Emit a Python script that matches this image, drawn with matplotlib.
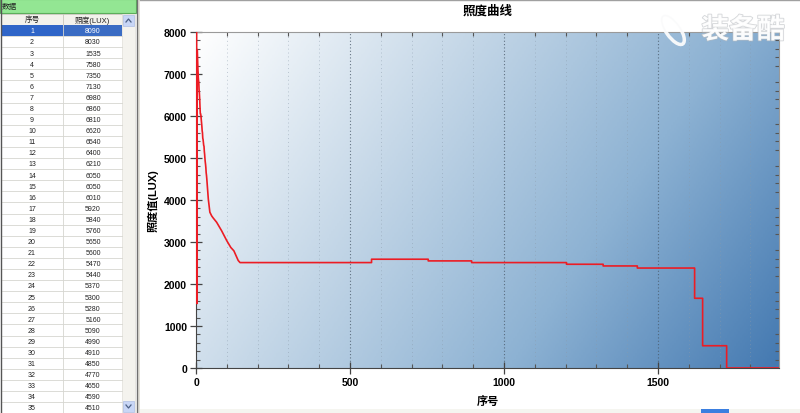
import numpy as np
import matplotlib
matplotlib.use('Agg')
import matplotlib.pyplot as plt
import matplotlib.patheffects as pe
from matplotlib.colors import LinearSegmentedColormap
from matplotlib.ticker import MultipleLocator
from matplotlib.patches import Rectangle, Ellipse

plt.rcParams['font.family'] = ['Liberation Sans', 'Noto Sans CJK SC', 'DejaVu Sans']

# table on the left (first rows of the data)
table_idx = list(range(1, 36))
table_lux = [8090, 8030, 1535, 7580, 7350, 7130, 6980, 6860, 6810, 6620,
             6540, 6400, 6210, 6050, 6050, 6010, 5920, 5840, 5760, 5650,
             5600, 5470, 5440, 5370, 5300, 5280, 5160, 5090, 4990, 4910,
             4850, 4770, 4650, 4590, 4510]

# rest of the curve
curve_idx = [40, 45, 51, 56, 67, 83, 100, 113, 123, 137, 143,
             570, 570, 754, 754, 895, 895, 1203, 1203, 1322, 1322,
             1433, 1433, 1619, 1619, 1645, 1645, 1723, 1723, 1893]
curve_lux = [4020, 3710, 3620, 3570, 3470, 3270, 3030, 2870, 2790, 2560, 2510,
             2510, 2590, 2590, 2550, 2550, 2510, 2510, 2470, 2470, 2430,
             2430, 2380, 2380, 1660, 1660, 530, 530, 0, 0]

x = table_idx + curve_idx
y = table_lux + curve_lux

W, H = 800, 414
fig = plt.figure(figsize=(W / 100, H / 100), dpi=100)
fig.patch.set_facecolor('white')

# ---- left panel (table), drawn in pixel coords
bg = fig.add_axes([0, 0, 1, 1])
bg.set_xlim(0, W)
bg.set_ylim(H, 0)
bg.axis('off')

bg.add_patch(Rectangle((0, 0), 136, 14, facecolor='#93e693', edgecolor='#5cae5c', lw=0.8))
bg.text(2, 7.5, '数据', fontsize=5.5, va='center', ha='left', color='#222222')
bg.add_patch(Rectangle((1, 15), 121, 11, facecolor='#f3f2ec', edgecolor='#c8c6bc', lw=0.6))
bg.plot([63, 63], [15, 26], color='#c8c6bc', lw=0.6)
bg.text(32, 20.5, '序号', fontsize=5.5, ha='center', va='center', color='#222222')
bg.text(92, 20.5, '照度(LUX)', fontsize=5.5, ha='center', va='center', color='#222222')

row_h = 11.09
for i, (n, v) in enumerate(zip(table_idx, table_lux)):
    top = 26 + i * row_h
    if i == 0:
        bg.add_patch(Rectangle((2, top), 61, row_h, facecolor='#2f65c8', edgecolor='none'))
        bg.add_patch(Rectangle((63, top), 59, row_h, facecolor='#3a6cc4', edgecolor='none'))
        c = 'white'
    else:
        c = '#222222'
    bg.plot([2, 122], [top + row_h, top + row_h], color='#d6d6d0', lw=0.6)
    bg.text(32, top + row_h / 2 + 0.3, str(n), fontsize=5, ha='center', va='center', color=c)
    bg.text(93, top + row_h / 2 + 0.3, str(v), fontsize=5, ha='center', va='center', color=c)
bg.plot([63, 63], [26, H], color='#d6d6d0', lw=0.6)

# scrollbar
bg.add_patch(Rectangle((122, 15), 13, H - 15, facecolor='#f4f3ee', edgecolor='#e0dfd8', lw=0.5))
bg.add_patch(Rectangle((123, 16), 11, 11, facecolor='#c8d6f6', edgecolor='#b0c0e4', lw=0.5))
bg.add_patch(Rectangle((123, 402), 11, 11, facecolor='#c8d6f6', edgecolor='#b0c0e4', lw=0.5))
bg.plot([126, 128.5, 131], [23, 20, 23], color='#4d6185', lw=0.9)
bg.plot([126, 128.5, 131], [406, 409, 406], color='#4d6185', lw=0.9)

# panel borders
bg.plot([0.5, 0.5], [0, H], color='#555555', lw=1)
bg.plot([136.5, 136.5], [0, H], color='#707070', lw=1)
bg.add_patch(Rectangle((137, 0), 3, H, facecolor='#e4e2da', edgecolor='none'))
bg.plot([140, W], [0.5, 0.5], color='#a0a0a0', lw=1)
bg.add_patch(Rectangle((140, 410), W - 140, 4, facecolor='#f5f5f0', edgecolor='none'))
bg.add_patch(Rectangle((701, 410), 28, 4, facecolor='#3b7fe0', edgecolor='none'))

# ---- chart
ax = fig.add_axes([196 / W, 1 - 369 / H, (779 - 196) / W, (369 - 33) / H])
ax.set_zorder(1)

gx = np.linspace(0, 1, 300)
gy = np.linspace(0, 1, 200)
GX, GY = np.meshgrid(gx, gy)
t = 0.72 * GX + 0.28 * GY
cmap = LinearSegmentedColormap.from_list('bg', ['#ffffff', '#c6d8e8', '#8db2d3', '#4479b1'])
ax.imshow(t, cmap=cmap, extent=[0, 1, 0, 1], transform=ax.transAxes,
          aspect='auto', origin='upper', zorder=0, vmin=0, vmax=1)

ax.plot(x, y, color='#ec1c24', lw=1.2, zorder=3)

ax.set_xlim(0, 1893)
ax.set_ylim(0, 8000)
ax.set_xticks([0, 500, 1000, 1500])
ax.set_yticks(range(0, 8001, 1000))
ax.xaxis.set_minor_locator(MultipleLocator(100))
ax.yaxis.set_minor_locator(MultipleLocator(200))
ax.tick_params(which='major', direction='inout', length=9, width=0.9, color='#444444',
               labelsize=7.5, top=False, right=False, pad=2)
ax.tick_params(which='minor', direction='in', length=3, width=0.8, color='#555555',
               top=True, right=True)
for lab in ax.get_xticklabels() + ax.get_yticklabels():
    lab.set_fontweight('bold')
ax.grid(axis='x', which='minor', linestyle=(0, (1, 3)), color='#8a9aaa', lw=0.7, alpha=0.5)
ax.grid(axis='x', which='major', linestyle=(0, (1, 2)), color='#4a5a6a', lw=0.8, alpha=0.8)

ax.spines['left'].set_color('#444444')
ax.spines['bottom'].set_color('#444444')
ax.spines['top'].set_color('#9a9a9a')
ax.spines['right'].set_color('#9a9a9a')

ax.set_xlabel('序号', fontsize=8, fontweight='bold', labelpad=6)
ax.set_ylabel('照度值(LUX)', fontsize=8, fontweight='bold', labelpad=4)
fig.text(487.5 / W, 1 - 12 / H, '照度曲线', fontsize=9, fontweight='bold',
         ha='center', va='center')

# watermark
halo = [pe.withStroke(linewidth=1.2, foreground='#b8bcc0', alpha=0.6)]
wm_ax = fig.add_axes([0, 0, 1, 1], zorder=5)
wm_ax.set_xlim(0, W)
wm_ax.set_ylim(H, 0)
wm_ax.axis('off')
wm_ax.text(743, 32, '装备酷', fontsize=20, fontweight='bold', color='white',
           alpha=0.9, ha='center', va='center', path_effects=halo)
wm_ax.add_patch(Ellipse((673, 31), 14, 34, angle=-35, fill=False, edgecolor='white',
                        lw=2.5, alpha=0.9, path_effects=halo))

fig.savefig('out.png', dpi=100)
